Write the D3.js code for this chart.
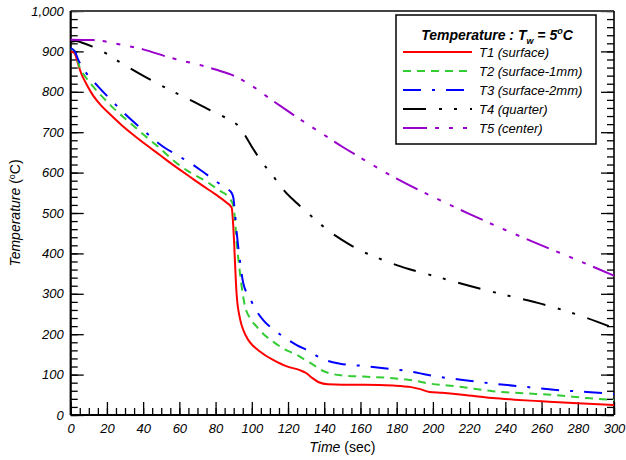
<!DOCTYPE html>
<html>
<head>
<meta charset="utf-8">
<script src="https://cdn.jsdelivr.net/npm/d3@7"></script>
<style>
  body { margin: 0; background: #fff; }
  text { font-family: "Liberation Sans", Arial, sans-serif; }
  .tick text { font-size: 13px; font-style: italic; fill: #000; }
  .axis path { display: none; }
  .axis line { stroke: #000; stroke-width: 1.3; }
</style>
</head>
<body>
<svg id="chart"></svg>
<script>
// time (sec) / temperature (C) pairs
const t1 = [[0,900],[2,896],[3,886],[4,870],[6,843],[8,825],[12.5,790],[17,765],[22,743],[28,718],[35,692],[44,661],[50,641],[55,624],[60,608],[66,589],[73,567],[80,546],[86,526],[88.9,513],[89.6,480],[90.2,430],[90.8,370],[91.6,300],[93.5,238],[95.5,208],[98,186],[101,170],[104.5,157],[108,146],[112,136],[119,121],[126.5,111],[130,104],[133,93],[137,81],[142,76],[150,75],[162,75],[178,73],[188,69],[193,64],[198,57],[205,55],[215,51],[225,46],[233,42],[245,38],[260,34],[280,29],[300,25]];
const t2 = [[0,906],[2,902],[3,891],[5,860],[8,838],[11.6,817],[17,790],[22.6,764],[31.8,727],[40,695],[49.3,660],[56.7,630],[65,603],[75,578],[82,556],[87,540],[89.8,518],[90.8,480],[91.7,425],[93,370],[94.4,318],[96.2,270],[99,240],[102.7,219],[107,198],[111.9,181],[118,163],[124.8,149],[130,135],[134,124],[138,112],[143.2,103],[150,98],[161.6,95],[178,91],[190,85],[196.6,79],[215,70],[233,59],[250,54],[268,49],[285,42],[300,37]];
const t3 = [[0,908],[2.4,899],[4,881],[7.9,851],[15.2,813],[22,781],[30,745],[40,705],[51.1,664],[60,640],[67.7,619],[73,602],[79.7,580],[84,567],[87,558],[88.8,550],[89.8,538],[90.7,500],[91.7,450],[93.5,380],[95.3,326],[99,289],[102,262],[106.3,235],[113.7,206],[119,189],[124.8,173],[132.1,157],[136,146],[139.5,138],[148.7,127],[163,121],[176,114],[186,109],[193,103],[200,97],[220,85],[232.5,78],[246,72],[268,62],[285,57],[300,52]];
const t4 = [[0,924],[3,926],[6,922],[12,912],[20,894],[28,871],[36,850],[46,825],[55,804],[65,782],[75,759],[85,737],[90,725],[93,714],[96,694],[100,664],[105,630],[112,590],[118,555],[125,524],[136,480],[142,457],[150,433],[160,407],[170,388],[180,371],[190,357],[200,345],[220,320],[240,297],[260,275],[280,248],[300,215]];
const t5 = [[0,929],[12.5,928],[27.3,917],[40,905],[53,887],[60.4,878],[70,868],[80,855],[90,840],[100,815],[110,783],[120,752],[130,722],[140,693],[150,664],[160,637],[180,585],[200,540],[220,498],[240,458],[260,420],[280,383],[300,345]];

const seriesNames = ['T1 (surface)', 'T2 (surface-1mm)', 'T3 (surface-2mm)', 'T4 (quarter)', 'T5 (center)'];
const seriesColors = ['#ff0000', '#33cc33', '#0000ff', '#000000', '#9900cc'];
const seriesDashes = ['none', '8,6', '18,11,3,11', '23,13,3,12,3,13', '24,8,4,10,4,10,4,8'];
const seriesData = [t1, t2, t3, t4, t5];

const xTicks = d3.range(0, 301, 20);
const xMinor = d3.range(0, 301, 5);
const yTicks = d3.range(0, 1001, 100);
const yMinor = d3.range(0, 1001, 20);

const width = 626, height = 460;
const margin = {top: 11, right: 12, bottom: 45, left: 70.7};
const innerW = width - margin.left - margin.right;
const innerH = height - margin.top - margin.bottom;

const svg = d3.select('#chart').attr('width', width).attr('height', height);
const chart = svg.append('g').attr('transform', `translate(${margin.left},${margin.top})`);

const xScale = d3.scaleLinear().domain([0, 300]).range([0, innerW]);
const yScale = d3.scaleLinear().domain([0, 1000]).range([innerH, 0]);

// minor ticks first, majors on top
chart.append('g').attr('class', 'axis')
    .attr('transform', `translate(0,${innerH})`)
    .call(d3.axisBottom(xScale).tickValues(xMinor).tickSize(-7).tickFormat(''));
chart.append('g').attr('class', 'axis')
    .attr('transform', `translate(0,${innerH})`)
    .call(d3.axisBottom(xScale).tickValues(xTicks).tickSize(-13).tickPadding(9));

chart.append('g').attr('class', 'axis')
    .call(d3.axisLeft(yScale).tickValues(yMinor).tickSize(-7).tickFormat(''));
chart.append('g').attr('class', 'axis')
    .call(d3.axisLeft(yScale).tickValues(yTicks).tickSize(-13).tickPadding(7).tickFormat(d3.format(',')));

chart.append('g').attr('class', 'axis')
    .attr('transform', `translate(${innerW},0)`)
    .call(d3.axisRight(yScale).tickValues(yMinor).tickSize(-7).tickFormat(''));
chart.append('g').attr('class', 'axis')
    .attr('transform', `translate(${innerW},0)`)
    .call(d3.axisRight(yScale).tickValues(yTicks).tickSize(-13).tickFormat(''));

// frame
chart.append('line').attr('x1', 0).attr('x2', innerW).attr('y1', 0).attr('y2', 0)
    .attr('stroke', '#444').attr('stroke-width', 2.2);
chart.append('line').attr('x1', innerW).attr('x2', innerW).attr('y1', 0).attr('y2', innerH)
    .attr('stroke', '#000').attr('stroke-width', 1.6);
chart.append('line').attr('x1', 0).attr('x2', 0).attr('y1', 0).attr('y2', innerH)
    .attr('stroke', '#000').attr('stroke-width', 2.2);
chart.append('line').attr('x1', 0).attr('x2', innerW).attr('y1', innerH).attr('y2', innerH)
    .attr('stroke', '#000').attr('stroke-width', 2.2);

// curves
const line = d3.line()
    .x(d => xScale(d[0]))
    .y(d => yScale(d[1]))
    .curve(d3.curveMonotoneX);

chart.selectAll('.series')
    .data(seriesData)
  .join('path')
    .attr('class', 'series')
    .attr('d', line)
    .attr('fill', 'none')
    .attr('stroke', (d, i) => seriesColors[i])
    .attr('stroke-width', 2)
    .attr('stroke-dasharray', (d, i) => seriesDashes[i]);

// axis titles
const xt = svg.append('text')
    .attr('x', margin.left + innerW / 2).attr('y', 452)
    .attr('text-anchor', 'middle').attr('font-size', 14);
xt.append('tspan').attr('font-style', 'italic').text('Time');
xt.append('tspan').text(' (sec)');

const yt = svg.append('text')
    .attr('transform', `translate(20,${margin.top + innerH / 2}) rotate(-90)`)
    .attr('text-anchor', 'middle').attr('font-size', 14);
yt.append('tspan').attr('font-style', 'italic').text('Temperature');
yt.append('tspan').text(' (');
yt.append('tspan').attr('font-size', 9).attr('dy', -5).text('o');
yt.append('tspan').attr('dy', 5).text('C)');

// legend
const legend = svg.append('g').attr('transform', 'translate(396,15)');
legend.append('rect')
    .attr('width', 200).attr('height', 129)
    .attr('fill', '#fff').attr('stroke', '#000').attr('stroke-width', 1.5);

const title = legend.append('text')
    .attr('x', 101).attr('y', 25)
    .attr('text-anchor', 'middle')
    .attr('font-size', 14).attr('font-weight', 'bold').attr('font-style', 'italic');
title.append('tspan').text('Temperature : T');
title.append('tspan').attr('font-size', 9).attr('dy', 4).text('w');
title.append('tspan').attr('dy', -4).text(' = 5');
title.append('tspan').attr('font-size', 9).attr('dy', -6).text('o');
title.append('tspan').attr('dy', 6).text('C');

const entries = legend.selectAll('.entry')
    .data(seriesNames)
  .join('g')
    .attr('class', 'entry')
    .attr('transform', (d, i) => `translate(0,${37 + i * 19})`);

entries.append('line')
    .attr('x1', 7).attr('x2', 76)
    .attr('stroke', (d, i) => seriesColors[i])
    .attr('stroke-width', 2)
    .attr('stroke-dasharray', (d, i) => seriesDashes[i]);

entries.append('text')
    .attr('x', 83).attr('y', 5)
    .attr('font-size', 13).attr('font-style', 'italic')
    .text(d => d);
</script>
</body>
</html>
